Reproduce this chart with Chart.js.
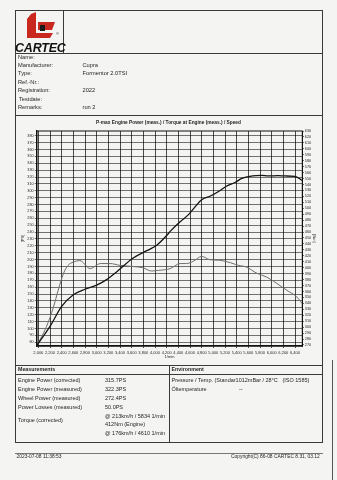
<!DOCTYPE html>
<html><head><meta charset="utf-8">
<script src="https://cdn.jsdelivr.net/npm/chart.js@4.4.1/dist/chart.umd.min.js"></script>
<style>
html,body{margin:0;padding:0;background:#f4f4f2;}
body{width:337px;height:480px;position:relative;overflow:hidden;font-family:"Liberation Sans",Arial,sans-serif;color:#262626;}
.t{position:absolute;white-space:nowrap;line-height:1;}
.s{font-size:5.7px;}
.m{font-size:5.5px;}
.b{font-weight:bold;}
.ln{position:absolute;background:#3a3a3a;}
#c{position:absolute;left:0;top:0;}
</style></head><body>
<canvas id="c" width="337" height="480"></canvas>

<!-- header frame -->
<div class="ln" style="left:15px;top:10px;width:308px;height:1px;"></div>
<div class="ln" style="left:15px;top:53px;width:308px;height:1px;"></div>
<div class="ln" style="left:15px;top:10px;width:1px;height:105px;"></div>
<div class="ln" style="left:322px;top:10px;width:1px;height:105px;"></div>
<div class="ln" style="left:63px;top:10px;width:1px;height:43px;"></div>
<svg style="position:absolute;left:0;top:0" width="80" height="60">
  <polygon points="31,14 36,12 36,33 53,33 50,38 27,38 27,19" fill="#c9281f"/>
  <polygon points="38,22 55,22 52,30 38,30" fill="#c9281f"/>
  <rect x="40" y="25" width="5" height="6" fill="#1a1a1a"/>
</svg>
<div class="t b" style="left:15px;top:42px;font-size:12.5px;font-style:italic;color:#111;letter-spacing:-0.2px;">CARTEC</div>
<div class="t" style="left:56px;top:32px;font-size:4px;">®</div>

<div class="t s" style="left:18px;top:54.6px;">Name:</div>
<div class="t s" style="left:18px;top:63px;">Manufacturer:</div>
<div class="t s" style="left:18px;top:71.4px;">Type:</div>
<div class="t s" style="left:18px;top:79.8px;">Ref.-Nr.:</div>
<div class="t s" style="left:18px;top:88.2px;">Registration:</div>
<div class="t s" style="left:19px;top:96.6px;">Testdate:</div>
<div class="t s" style="left:18px;top:105px;">Remarks:</div>
<div class="t s" style="left:82.5px;top:63px;">Cupra</div>
<div class="t s" style="left:82.5px;top:71.4px;">Formentor 2.0TSI</div>
<div class="t s" style="left:82.5px;top:88.2px;">2022</div>
<div class="t s" style="left:82.5px;top:105px;">run 2</div>

<!-- chart frame -->
<div class="ln" style="left:15px;top:115px;width:308px;height:1px;"></div>
<div class="ln" style="left:15px;top:115px;width:1px;height:250px;"></div>
<div class="ln" style="left:322px;top:115px;width:1px;height:250px;"></div>
<div class="t b" style="left:0;width:337px;text-align:center;top:121.3px;font-size:4.8px;">P-max Engine Power (meas.) / Torque at Engine (meas.) / Speed</div>

<!-- measurements table -->
<div class="ln" style="left:15px;top:365px;width:308px;height:1px;"></div>
<div class="ln" style="left:15px;top:374px;width:308px;height:1px;"></div>
<div class="ln" style="left:15px;top:442px;width:308px;height:1px;"></div>
<div class="ln" style="left:15px;top:365px;width:1px;height:77px;"></div>
<div class="ln" style="left:322px;top:365px;width:1px;height:77px;"></div>
<div class="ln" style="left:169px;top:365px;width:1px;height:77px;"></div>
<div class="t b" style="left:18px;top:367.4px;font-size:5.3px;">Measurements</div>
<div class="t b" style="left:171.5px;top:367.4px;font-size:5.3px;">Environment</div>
<div class="t m" style="left:18px;top:378px;">Engine Power (corrected)</div>
<div class="t m" style="left:18px;top:387px;">Engine Power (measured)</div>
<div class="t m" style="left:18px;top:396px;">Wheel Power (measured)</div>
<div class="t m" style="left:18px;top:404.8px;">Power Losses (measured)</div>
<div class="t m" style="left:18px;top:418.3px;">Torque (corrected)</div>
<div class="t m" style="left:105px;top:378px;">315.7PS</div>
<div class="t m" style="left:105px;top:387px;">322.3PS</div>
<div class="t m" style="left:105px;top:396px;">272.4PS</div>
<div class="t m" style="left:105px;top:404.8px;">50.0PS</div>
<div class="t m" style="left:105px;top:413.8px;">@ 213km/h / 5834 1/min</div>
<div class="t m" style="left:105px;top:422.3px;">412Nm (Engine)</div>
<div class="t m" style="left:105px;top:431.3px;">@ 176km/h / 4610 1/min</div>
<div class="t m" style="left:171.5px;top:377.5px;">Pressure / Temp. (Standar1012mBar / 28°C &nbsp;&nbsp;(ISO 1585)</div>
<div class="t m" style="left:171.5px;top:386.5px;">Öltemperature</div>
<div class="t m" style="left:239px;top:386.5px;">--</div>

<!-- footer -->
<div class="ln" style="left:15px;top:453px;width:308px;height:1px;background:#777;"></div>
<div class="t" style="left:16.5px;top:455.3px;font-size:4.9px;">2023-07-08 11:38:53</div>
<div class="t" style="left:231px;top:455.3px;font-size:4.9px;">Copyright(C) 86-08 CARTEC 8.31, 03.12</div>
<div class="ln" style="left:332px;top:360px;width:1px;height:120px;background:#555;"></div>

<script>
// ---- data ----
const powerRpm = [1972, 2200, 2400, 2600, 2800, 3000, 3170, 3340, 3620, 3860, 4030, 4200, 4260, 4430, 4570, 4690, 4800, 4940, 5090, 5230, 5370, 5490, 5630, 5740, 5830, 5940, 6110, 6230, 6400, 6520];
const powerPS  = [75, 103, 132, 149, 157, 163, 171, 182, 202, 213, 221, 235, 241, 255, 265, 277, 287, 292, 299, 307, 312, 318, 321, 322, 322.3, 321.5, 322, 321.5, 321, 315];
const torqueRpm = [1972, 2140, 2260, 2340, 2430, 2510, 2600, 2710, 2890, 3060, 3230, 3400, 3630, 3790, 3940, 4060, 4260, 4430, 4540, 4660, 4800, 4940, 5110, 5290, 5430, 5570, 5740, 5910, 6090, 6260, 6430, 6520];
const torqueNm  = [268.3, 301, 334, 362, 390, 404, 409.5, 412, 398.5, 407, 407, 404, 402, 400, 394.5, 395.5, 398.5, 407, 407, 411, 419, 413.5, 412.5, 408.5, 404, 401, 391, 384.5, 373.5, 362, 351, 340];
const rpmTicks = [2000, 2200, 2400, 2600, 2800, 3000, 3200, 3400, 3600, 3800, 4000, 4200, 4400, 4600, 4800, 5000, 5200, 5400, 5600, 5800, 6000, 6200, 6400];
const psTicks = [80, 90, 100, 110, 120, 130, 140, 150, 160, 170, 180, 190, 200, 210, 220, 230, 240, 250, 260, 270, 280, 290, 300, 310, 320, 330, 340, 350, 360, 370, 380];
const nmTicks = [270, 280, 290, 300, 310, 320, 330, 340, 350, 360, 370, 380, 390, 400, 410, 420, 430, 440, 450, 460, 470, 480, 490, 500, 510, 520, 530, 540, 550, 560, 570, 580, 590, 600, 610, 620, 630];

const frame = {
  id: 'frame',
  afterDatasetsDraw(chart) {
    const a = chart.chartArea, c = chart.ctx;
    c.save();
    c.strokeStyle = '#111';
    c.lineWidth = 1;
    c.strokeRect(a.left, a.top, a.right - a.left, a.bottom - a.top);
    c.restore();
  }
};

const tickFont = {family: 'Liberation Sans', size: 3.8};
new Chart(document.getElementById('c'), {
  type: 'line',
  data: {
    datasets: [
      {
        label: 'Engine Power (meas.) [PS]',
        data: powerRpm.map((r, i) => ({x: r, y: powerPS[i]})),
        yAxisID: 'y', borderColor: '#141414', borderWidth: 1.3,
        pointRadius: 0, cubicInterpolationMode: 'monotone', fill: false
      },
      {
        label: 'Torque at Engine (meas.) [Nm]',
        data: torqueRpm.map((r, i) => ({x: r, y: torqueNm[i]})),
        yAxisID: 'y1', borderColor: '#6e6e6e', borderWidth: 1,
        pointRadius: 0, cubicInterpolationMode: 'monotone', fill: false
      }
    ]
  },
  options: {
    responsive: false, animation: false, devicePixelRatio: 1,
    layout: {padding: {left: 20, right: 20.7, top: 131, bottom: 120}},
    plugins: {legend: {display: false}, tooltip: {enabled: false}, title: {display: false}},
    scales: {
      x: {
        type: 'linear', position: 'bottom', min: 1972, max: 6525,
        afterBuildTicks: s => { s.ticks = rpmTicks.map(v => ({value: v})); },
        afterFit: s => { s.height = 14; },
        ticks: {font: {family: 'Liberation Sans', size: 4}, color: '#2a2a2a', padding: 2.5, maxRotation: 0, autoSkip: false,
                callback: v => v.toLocaleString('en-US')},
        grid: {color: 'rgba(0,0,0,0.78)', lineWidth: 0.9, tickLength: 2},
        border: {color: '#111', width: 1.4},
        title: {display: true, text: '1/min', font: {family: 'Liberation Sans', size: 4}, color: '#2a2a2a', padding: {top: 0, bottom: 1}}
      },
      y: {
        type: 'linear', position: 'left', min: 74.6, max: 386.8,
        afterBuildTicks: s => { s.ticks = psTicks.map(v => ({value: v})); },
        afterFit: s => { s.width = 16.7; },
        ticks: {font: tickFont, color: '#2a2a2a', padding: 1, autoSkip: false},
        grid: {color: 'rgba(0,0,0,0.6)', lineWidth: 0.9, tickLength: 2},
        border: {color: '#111', width: 1.4},
        title: {display: true, text: '[PS]', font: {family: 'Liberation Sans', size: 4}, color: '#2a2a2a', padding: 0}
      },
      y1: {
        type: 'linear', position: 'right', min: 268.3, max: 630,
        afterBuildTicks: s => { s.ticks = nmTicks.map(v => ({value: v})); },
        afterFit: s => { s.width = 14; },
        ticks: {font: tickFont, color: '#2a2a2a', padding: 1, autoSkip: false},
        grid: {drawOnChartArea: false, color: '#222', lineWidth: 0.8, tickLength: 1.5},
        border: {color: '#111', width: 1},
        title: {display: true, text: '[Nm]', font: {family: 'Liberation Sans', size: 4}, color: '#2a2a2a', padding: 0}
      }
    }
  },
  plugins: [frame]
});
</script>
</body></html>
